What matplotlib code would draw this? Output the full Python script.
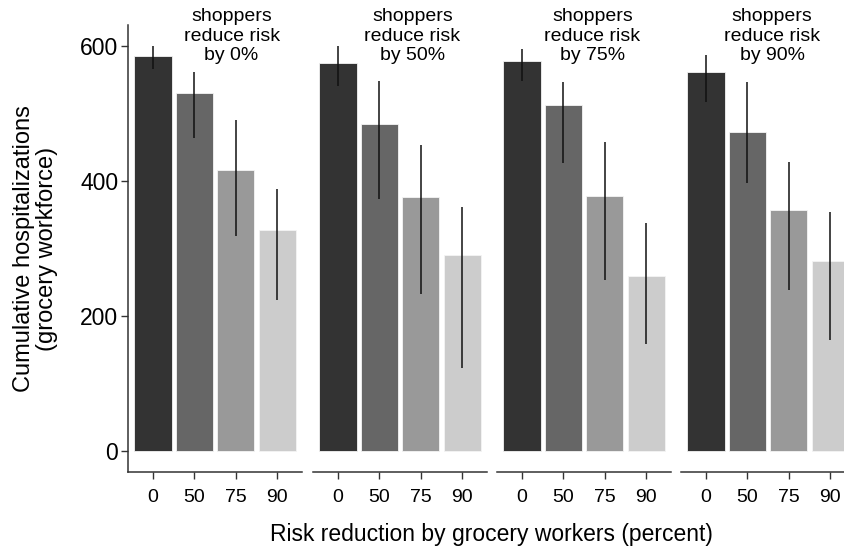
import numpy as np
import matplotlib.pyplot as plt

plt.rcParams['font.family'] = ['Liberation Sans', 'DejaVu Sans']

worker_levels = ['0', '50', '75', '90']
shopper_titles = ['shoppers\nreduce risk\nby 0%', 'shoppers\nreduce risk\nby 50%',
                  'shoppers\nreduce risk\nby 75%', 'shoppers\nreduce risk\nby 90%']

# mean hospitalizations per panel (shopper reduction), per worker reduction
means = [
    [585, 531, 416, 328],
    [575, 484, 377, 290],
    [578, 512, 378, 259],
    [562, 473, 357, 282],
]
lower = [
    [566, 464, 319, 224],
    [541, 373, 233, 123],
    [548, 427, 253, 159],
    [517, 397, 239, 164],
]
upper = [
    [600, 562, 491, 388],
    [600, 548, 454, 361],
    [596, 546, 457, 338],
    [587, 546, 428, 354],
]

fills = ['#333333', '#666666', '#999999', '#cccccc']

W, H = 844, 547
fig = plt.figure(figsize=(W / 100, H / 100), dpi=100)

lefts = [128, 313, 497, 681]
pw = 174
bottom, top = 472, 25
title_x = [1.9, 1.8, 1.7, 1.6]

x = np.arange(len(worker_levels))
axes = []
for i in range(4):
    ax = fig.add_axes([lefts[i] / W, (H - bottom) / H, pw / W, (bottom - top) / H])
    m = np.array(means[i])
    lo = np.array(lower[i])
    hi = np.array(upper[i])
    ax.bar(x, m, width=0.9, color=fills, edgecolor='#f4f4f4', linewidth=0.6)
    ax.vlines(x, lo, hi, color='#111111', linewidth=1.1)
    ax.set_xlim(-0.6, 3.6)
    ax.set_ylim(-31, 631)
    ax.set_xticks(x)
    ax.set_xticklabels(worker_levels, fontsize=14)
    ax.tick_params(axis='x', length=5, width=1, pad=7, colors='#333333', labelcolor='black')
    for s in ['top', 'right']:
        ax.spines[s].set_visible(False)
    ax.spines['bottom'].set_linewidth(1.1)
    ax.spines['bottom'].set_color('#333333')
    if i == 0:
        ax.set_yticks([0, 200, 400, 600])
        ax.tick_params(axis='y', length=5, width=1, labelsize=16.5, pad=2,
                       colors='#333333', labelcolor='black')
        ax.spines['left'].set_linewidth(1.1)
        ax.spines['left'].set_color('#333333')
        ax.set_ylabel('Cumulative hospitalizations\n(grocery workforce)', fontsize=17,
                      linespacing=1.1)
        ax.yaxis.set_label_coords(-0.40, 0.5)
    else:
        ax.spines['left'].set_visible(False)
        ax.set_yticks([])
    ax.text(title_x[i], 0.975, shopper_titles[i], transform=ax.get_xaxis_transform(),
            ha='center', va='center', fontsize=14, linespacing=1.2)
    axes.append(ax)

fig.text(491 / W, (H - 535) / H, 'Risk reduction by grocery workers (percent)',
         ha='center', va='center', fontsize=16.5)

fig.savefig('out.png', dpi=100)
